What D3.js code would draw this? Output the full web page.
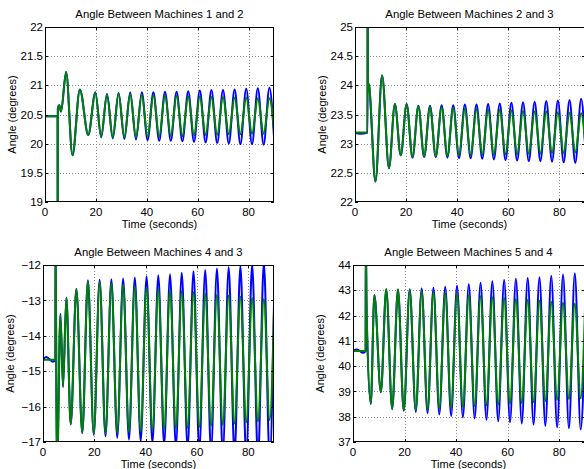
<!DOCTYPE html>
<html><head><meta charset="utf-8">
<script src="https://cdn.jsdelivr.net/npm/d3@7"></script>
<style>
body{margin:0;background:#fff}
svg{display:block}
text{font-family:"Liberation Sans",Arial,Helvetica,sans-serif;fill:#000}
</style></head>
<body><svg id="c" width="584" height="469"></svg>
<script>
// ---------- data ----------
const titles = ["Angle Between Machines 1 and 2","Angle Between Machines 2 and 3",
                "Angle Between Machines 4 and 3","Angle Between Machines 5 and 4"];
const xLabel = "Time (seconds)";
const yLabel = "Angle (degrees)";
const xTicks = [0, 20, 40, 60, 80];
const xDomain = [0, 90];
const yTicks1 = [19, 19.5, 20, 20.5, 21, 21.5, 22];
const yTicks2 = [22, 22.5, 23, 23.5, 24, 24.5, 25];
const yTicks3 = [-17, -16, -15, -14, -13, -12];
const yTicks4 = [37, 38, 39, 40, 41, 42, 43, 44];

// Panel 1: time of each turning point and values
const t1 = [0, 4.95, 5.0, 5.05, 5.6, 6.3, 8.3, 10.8, 13.7, 17.0,
  19.8, 22.08, 24.36, 26.64, 28.92, 31.2, 33.48, 35.76, 38.04, 40.32,
  42.6, 44.88, 47.16, 49.44, 51.72, 54.0, 56.28, 58.56, 60.84, 63.12,
  65.4, 67.68, 69.96, 72.24, 74.52, 76.8, 79.08, 81.36, 83.64, 85.92,
  88.2, 90];
const blue1 = [20.47, 20.47, 17.0, 20.6, 20.66, 20.55, 21.23, 19.8, 20.93, 20.15,
  20.88, 20.11, 20.85, 20.09, 20.87, 20.08, 20.88, 20.07, 20.88, 20.06,
  20.88, 20.05, 20.89, 20.05, 20.89, 20.04, 20.90, 20.03, 20.91, 20.02,
  20.92, 20.01, 20.92, 20.00, 20.93, 19.99, 20.94, 19.99, 20.95, 19.98,
  20.96, 20.12];
const green1 = [20.47, 20.47, 17.0, 20.6, 20.66, 20.55, 21.23, 19.8, 20.93, 20.15,
  20.87, 20.12, 20.84, 20.11, 20.86, 20.11, 20.85, 20.11, 20.84, 20.12,
  20.83, 20.12, 20.83, 20.13, 20.82, 20.13, 20.81, 20.14, 20.81, 20.15,
  20.80, 20.15, 20.80, 20.16, 20.79, 20.16, 20.79, 20.17, 20.78, 20.17,
  20.78, 20.25];

// Panel 2
const t2 = [0, 2.0, 4.9, 4.95, 5.05, 5.5,
  8.0, 10.6, 13.3, 15.6, 17.9, 20.2, 22.5, 24.8,
  27.05, 29.35, 31.6, 33.9, 36.15, 38.45, 40.7, 43.0,
  45.25, 47.55, 49.8, 52.1, 54.35, 56.65, 58.9, 61.2,
  63.45, 65.75, 68.0, 70.3, 72.55, 74.85, 77.1, 79.4,
  81.65, 83.95, 86.2, 88.5, 90];
const blue2 = [23.19, 23.17, 23.19, 26.5, 24.05, 24.0,
  22.35, 24.17, 22.58, 23.68, 22.80, 23.68, 22.76, 23.65,
  22.77, 23.65, 22.77, 23.66, 22.76, 23.66, 22.75, 23.67,
  22.75, 23.67, 22.74, 23.68, 22.73, 23.69, 22.72, 23.70,
  22.71, 23.71, 22.70, 23.72, 22.70, 23.73, 22.69, 23.74,
  22.68, 23.75, 22.67, 23.77, 23.0];
const green2 = [23.19, 23.19, 23.19, 26.5, 24.05, 24.0,
  22.35, 24.17, 22.58, 23.68, 22.80, 23.67, 22.77, 23.64,
  22.78, 23.63, 22.79, 23.62, 22.79, 23.61, 22.80, 23.60,
  22.80, 23.59, 22.81, 23.58, 22.81, 23.58, 22.82, 23.57,
  22.82, 23.56, 22.83, 23.55, 22.83, 23.55, 22.84, 23.54,
  22.84, 23.53, 22.85, 23.52, 23.05];

// Panel 3
const t3 = [0, 1.3, 3.9, 4.8, 4.9, 5.4,
  6.8, 7.8, 9.1, 10.8, 13.0, 15.3,
  17.5, 19.78, 22.07, 24.35, 26.64, 28.92, 31.21, 33.49,
  35.78, 38.06, 40.35, 42.63, 44.92, 47.2, 49.49, 51.77,
  54.06, 56.34, 58.63, 60.91, 63.2, 65.48, 67.77, 70.05,
  72.34, 74.62, 76.91, 79.19, 81.48, 83.76, 86.05, 88.33,
  90];
const blue3 = [-14.68, -14.6, -14.73, -14.68, -11.0, -18.0,
  -13.38, -15.45, -12.92, -16.5, -12.68, -16.75,
  -12.43, -16.80, -12.42, -16.84, -12.40, -16.88, -12.38, -16.93,
  -12.35, -16.98, -12.32, -17.03, -12.29, -17.08, -12.26, -17.13,
  -12.22, -17.18, -12.18, -17.23, -12.14, -17.28, -12.10, -17.33,
  -12.06, -17.38, -12.02, -17.43, -11.98, -17.48, -11.93, -17.53,
  -13.1];
const green3 = [-14.68, -14.68, -14.68, -14.68, -11.0, -18.0,
  -13.42, -15.42, -12.93, -16.5, -12.68, -16.74,
  -12.45, -16.77, -12.47, -16.76, -12.52, -16.74, -12.56, -16.71,
  -12.60, -16.69, -12.64, -16.67, -12.67, -16.65, -12.71, -16.62,
  -12.74, -16.60, -12.78, -16.57, -12.81, -16.54, -12.84, -16.51,
  -12.87, -16.48, -12.90, -16.45, -12.93, -16.42, -12.96, -16.38,
  -13.3];

// Panel 4
const t4 = [0, 1.5, 4.0, 4.9, 4.97, 5.3,
  6.9, 8.3, 10.8, 12.9, 15.2, 17.45,
  19.7, 22.0, 24.35, 26.64, 28.92, 31.21, 33.49, 35.78,
  38.06, 40.35, 42.63, 44.92, 47.2, 49.49, 51.77, 54.06,
  56.34, 58.63, 60.91, 63.2, 65.48, 67.77, 70.05, 72.34,
  74.62, 76.91, 79.19, 81.48, 83.76, 86.05, 88.33,
  90];
const blue4 = [40.6, 40.66, 40.53, 40.6, 45.0, 42.07,
  38.5, 42.8, 38.97, 43.02, 38.3, 43.03,
  38.24, 43.04, 38.19, 43.07, 38.14, 43.1, 38.09, 43.14,
  38.03, 43.18, 37.98, 43.24, 37.93, 43.3, 37.88, 43.36,
  37.82, 43.41, 37.78, 43.46, 37.73, 43.49, 37.69, 43.52,
  37.64, 43.57, 37.58, 43.62, 37.54, 43.67, 37.49,
  41.2];
const green4 = [40.6, 40.6, 40.6, 40.6, 45.0, 42.07,
  38.52, 42.8, 38.98, 43.05, 38.32, 43.03,
  38.25, 43.0, 38.27, 42.96, 38.3, 42.92, 38.33, 42.88,
  38.36, 42.84, 38.39, 42.8, 38.42, 42.76, 38.45, 42.72,
  38.48, 42.69, 38.51, 42.66, 38.54, 42.62, 38.58, 42.59,
  38.62, 42.55, 38.67, 42.51, 38.70, 42.47, 38.72,
  42.25];

// ---------- layout ----------
const panels = [
  {title: titles[0], t: t1, blue: blue1, green: green1, yt: yTicks1, box: [45, 274, 27, 202]},
  {title: titles[1], t: t2, blue: blue2, green: green2, yt: yTicks2, box: [355, 585, 27, 202]},
  {title: titles[2], t: t3, blue: blue3, green: green3, yt: yTicks3, box: [43, 274, 265, 442]},
  {title: titles[3], t: t4, blue: blue4, green: green4, yt: yTicks4, box: [353, 585, 265, 442]}
];

const svg = d3.select("#c");
svg.append("rect").attr("width", 584).attr("height", 469).attr("fill", "#fff");
const fmt = d => String(d).replace("-", "\u2212");

panels.forEach((p, i) => {
  if (p.t.length !== p.blue.length || p.t.length !== p.green.length)
    throw new Error("length mismatch panel " + (i + 1));
  const [x0, x1, y0, y1] = p.box;
  const yDom = d3.extent(p.yt);
  const x = d3.scaleLinear().domain(xDomain).range([x0, x1]);
  const y = d3.scaleLinear().domain(yDom).range([y1, y0]);
  const g = svg.append("g");

  const cid = "clip" + i;
  svg.append("clipPath").attr("id", cid).append("rect")
    .attr("x", x0).attr("y", y0).attr("width", x1 - x0).attr("height", y1 - y0);

  // grid
  const grid = g.append("g").attr("stroke", "#8c8c8c").attr("stroke-width", 1)
    .attr("stroke-dasharray", "1,2").attr("shape-rendering", "crispEdges");
  xTicks.filter(v => v > xDomain[0] && v < xDomain[1]).forEach(v => {
    grid.append("line").attr("x1", Math.round(x(v)) + 0.5).attr("x2", Math.round(x(v)) + 0.5)
      .attr("y1", y0).attr("y2", y1);
  });
  p.yt.filter(v => v > yDom[0] && v < yDom[1]).forEach(v => {
    grid.append("line").attr("y1", Math.round(y(v)) + 0.5).attr("y2", Math.round(y(v)) + 0.5)
      .attr("x1", x0).attr("x2", x1);
  });

  // series
  const idx = d3.range(p.t.length);
  const mk = vals => d3.line().x(k => x(p.t[k])).y(k => y(vals[k])).curve(d3.curveMonotoneX)(idx);
  const lg = g.append("g").attr("clip-path", `url(#${cid})`);
  lg.append("path").attr("d", mk(p.blue)).attr("fill", "none").attr("stroke", "#0000ff")
    .attr("stroke-width", 2).attr("stroke-linejoin", "round");
  lg.append("path").attr("d", mk(p.green)).attr("fill", "none").attr("stroke", "#008000")
    .attr("stroke-width", 2).attr("stroke-linejoin", "round");

  // box
  g.append("rect").attr("x", x0 + 0.5).attr("y", y0 + 0.5).attr("width", x1 - x0 - 1)
    .attr("height", y1 - y0 - 1).attr("fill", "none").attr("stroke", "#000").attr("stroke-width", 1);

  // inward ticks
  const tk = g.append("g").attr("stroke", "#000").attr("stroke-width", 1).attr("shape-rendering", "crispEdges");
  xTicks.forEach(v => {
    const xx = Math.round(x(v)) + 0.5;
    tk.append("line").attr("x1", xx).attr("x2", xx).attr("y1", y1).attr("y2", y1 - 3);
    tk.append("line").attr("x1", xx).attr("x2", xx).attr("y1", y0).attr("y2", y0 + 3);
  });
  p.yt.forEach(v => {
    const yy = Math.round(y(v)) + 0.5;
    tk.append("line").attr("x1", x0).attr("x2", x0 + 3).attr("y1", yy).attr("y2", yy);
    tk.append("line").attr("x1", x1).attr("x2", x1 - 3).attr("y1", yy).attr("y2", yy);
  });

  // tick labels
  xTicks.forEach(v => {
    g.append("text").attr("x", x(v)).attr("y", y1 + 14).attr("text-anchor", "middle")
      .attr("font-size", "11.5px").text(fmt(v));
  });
  p.yt.forEach(v => {
    g.append("text").attr("x", x0 - 2).attr("y", y(v)).attr("dy", "0.36em").attr("text-anchor", "end")
      .attr("font-size", "11.5px").text(fmt(v));
  });

  // labels
  g.append("text").attr("x", (x0 + Math.min(x1, 584)) / 2).attr("y", y0 - 9).attr("text-anchor", "middle")
    .attr("font-size", "11.3px").text(p.title);
  g.append("text").attr("x", (x0 + Math.min(x1, 584)) / 2).attr("y", y1 + 25.5).attr("text-anchor", "middle")
    .attr("font-size", "11px").text(xLabel);
  g.append("text").attr("transform", `translate(${x0 - 29.5},${(y0 + y1) / 2}) rotate(-90)`)
    .attr("text-anchor", "middle").attr("font-size", "11px").text(yLabel);
});
</script></body></html>
